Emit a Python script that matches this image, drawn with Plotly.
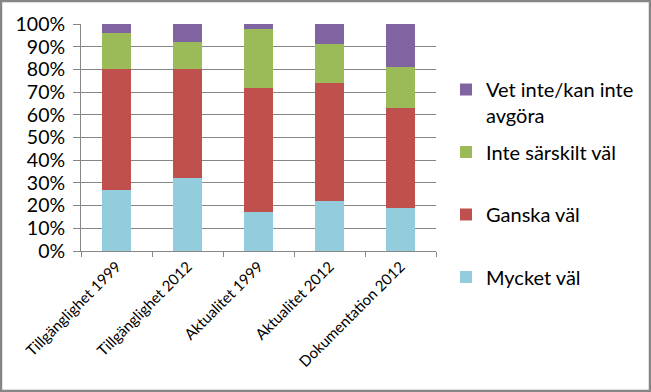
import plotly.graph_objects as go

categories = ["Tillgänglighet 1999", "Tillgänglighet 2012", "Aktualitet 1999", "Aktualitet 2012", "Dokumentation 2012"]
mycket_val = [27, 32, 17, 22, 19]
ganska_val = [53, 48, 55, 52, 44]
inte_sarskilt_val = [16, 12, 26, 17, 18]
vet_inte = [4, 8, 2, 9, 19]

series = [
    ("Mycket väl<br>\u00a0", mycket_val, "#93CDDD"),
    ("Ganska väl<br>\u00a0", ganska_val, "#C0504D"),
    ("Inte särskilt väl<br>\u00a0", inte_sarskilt_val, "#9BBB59"),
    ("Vet inte/kan inte<br>avgöra", vet_inte, "#8064A2"),
]

FONT = "Lato"
W, H = 651, 392
ML, MR, MT, MB = 81, 215, 24, 141
PW, PH = W - ML - MR, H - MT - MB

fig = go.Figure()
for i, (name, vals, col) in enumerate(series):
    fig.add_trace(go.Bar(
        x=categories, y=vals, name=name, marker_color=col,
        marker_line_width=0, legendgroup=f"g{i}",
        legendrank=1000 - i,
    ))

fig.update_layout(
    barmode="stack",
    bargap=0.6,
    width=W, height=H,
    margin=dict(l=ML, r=MR, t=MT, b=MB, pad=0, autoexpand=False),
    paper_bgcolor="white", plot_bgcolor="white",
    font=dict(family=FONT, size=20, color="#000000"),
    legend=dict(
        x=(446 - ML) / PW, xanchor="left", y=1 - (70 - MT) / PH, yanchor="top",
        traceorder="grouped", tracegroupgap=7.5,
        font=dict(family=FONT, size=20, color="#000000"),
        itemwidth=30, valign="top", bgcolor="rgba(0,0,0,0)",
        maxheight=400,
    ),
    xaxis=dict(
        tickangle=-45, tickfont=dict(size=15),
        showline=True, linecolor="#868686", linewidth=1,
        ticks="outside", tickson="boundaries", ticklen=5, tickcolor="#868686",
        showgrid=False, automargin=False,
    ),
    yaxis=dict(
        range=[0, 100], dtick=10, ticksuffix="%",
        showline=True, linecolor="#868686", linewidth=1,
        ticks="outside", ticklen=7, tickcolor="#868686",
        showgrid=True, gridcolor="#868686", gridwidth=1,
        tickfont=dict(size=19.5), automargin=False,
        ticklabelstandoff=4,
        zeroline=False,
    ),
    shapes=[dict(
        type="rect", xref="paper", yref="paper",
        x0=(1 - ML) / PW, x1=(W - 1 - ML) / PW,
        y0=-(H - 1 - MT - PH) / PH, y1=1 + (MT - 1) / PH,
        line=dict(color="#868686", width=2.5), fillcolor="rgba(0,0,0,0)",
        layer="above",
    )],
)

fig.write_html(
    "out.html",
    config={"displayModeBar": False},
    post_script="document.body.style.margin='0';document.body.style.overflow='hidden';",
)
